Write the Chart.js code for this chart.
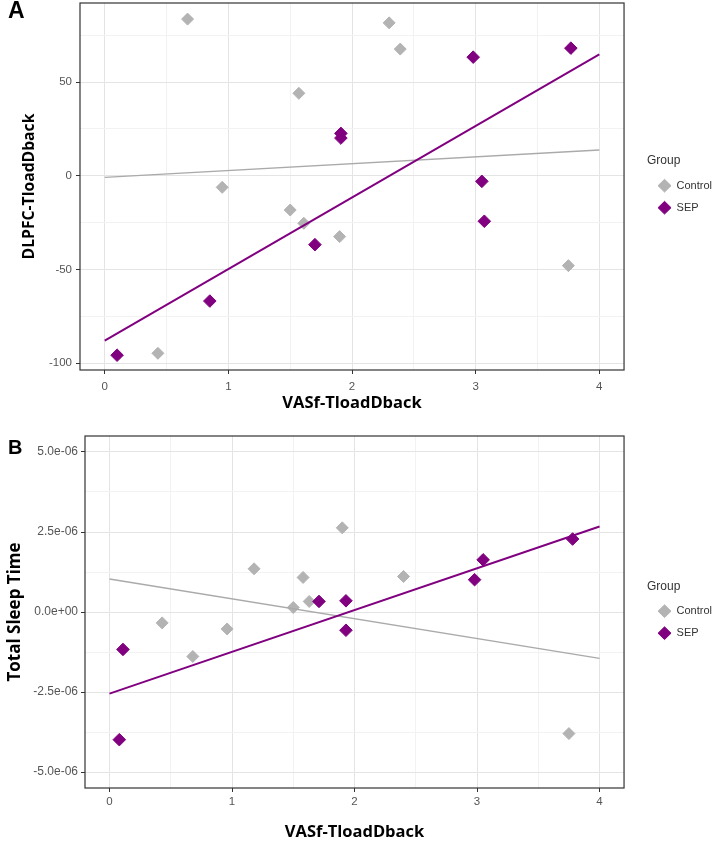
<!DOCTYPE html>
<html>
<head>
<meta charset="utf-8">
<script src="https://cdn.jsdelivr.net/npm/chart.js@4.4.0/dist/chart.umd.min.js"></script>
<style>
body { margin: 0; background: #fff; }
#wrap { position: relative; width: 713px; height: 846px; overflow: hidden; }
.panel { position: absolute; left: 0; width: 713px; }
.tag { position: absolute; left: 8px; font: bold 23px "Liberation Sans", Arial, sans-serif; line-height: 1; color: #000; }
</style>
</head>
<body>
<div id="wrap">
  <div class="panel" style="top:0;height:420px"><canvas id="relA"></canvas></div>
  <div class="panel" style="top:420px;height:426px"><canvas id="relB"></canvas></div>
  <div class="tag" style="top:-1px">A</div>
  <div class="tag" style="top:437px;font-size:20px">B</div>
</div>
<script>
// painel A - DLPFC
var ctrlA_x = [0.43, 0.67, 0.95, 1.50, 1.57, 1.61, 1.90, 2.30, 2.39, 3.75];
var ctrlA_y = [-94.8, 83.6, -6.2, -18.3, 44.0, -25.4, -32.5, 81.6, 67.6, -48.0];
var sepA_x = [0.10, 0.85, 1.70, 1.91, 1.91, 2.98, 3.05, 3.07, 3.77];
var sepA_y = [-95.8, -66.9, -36.8, 22.6, 20.1, 63.3, -3.0, -24.3, 68.1];
var ctrlA_fit = [-0.9, 13.7];
var sepA_fit = [-88.0, 64.8];

// painel B - Total Sleep Time
var ctrlB_x = [0.43, 0.68, 0.96, 1.18, 1.50, 1.58, 1.63, 1.90, 2.40, 3.75];
var ctrlB_y = [-0.34e-6, -1.39e-6, -0.53e-6, 1.35e-6, 0.14e-6, 1.08e-6, 0.33e-6, 2.63e-6, 1.11e-6, -3.80e-6];
var sepB_x = [0.08, 0.11, 1.71, 1.93, 1.93, 2.98, 3.05, 3.78];
var sepB_y = [-3.99e-6, -1.17e-6, 0.33e-6, 0.35e-6, -0.57e-6, 1.01e-6, 1.63e-6, 2.28e-6];
var ctrlB_fit = [1.03e-6, -1.45e-6];
var sepB_fit = [-2.55e-6, 2.67e-6];

// extremos das retas de ajuste (eixo X)
var fitX = [0, 4];
var grupos = ['Control', 'SEP'];

var cinza = '#b3b3b3', roxo = '#800080';

function pts(xs, ys) {
    return xs.map(function (x, i) { return {x: x, y: ys[i]}; });
}

function ehMultiplo(v, passo) {
    var k = v / passo;
    return Math.abs(k - Math.round(k)) < 1e-6;
}

// moldura do painel, por cima de tudo
var moldura = {
    id: 'moldura',
    afterDraw: function (chart) {
        var a = chart.chartArea, c = chart.ctx;
        c.save();
        c.strokeStyle = '#333';
        c.lineWidth = 1.2;
        c.strokeRect(a.left, a.top, a.right - a.left, a.bottom - a.top);
        c.restore();
    }
};

function grafico(id, o) {
    var gridCor = function (maior) {
        return function (ctx) {
            return ehMultiplo(ctx.tick.value, maior) ? '#e4e4e4' : '#f2f2f2';
        };
    };
    var tickCor = function (maior) {
        return function (ctx) {
            return ehMultiplo(ctx.tick.value, maior) ? '#333' : 'rgba(0,0,0,0)';
        };
    };
    return new Chart(document.getElementById(id), {
        type: 'scatter',
        data: {
            datasets: [{
                    label: grupos[0],
                    data: pts(o.cx, o.cy),
                    backgroundColor: cinza,
                    borderColor: cinza,
                    pointStyle: 'rectRot',
                    pointRadius: 6,
                    borderWidth: 1,
                    order: 3
                }, {
                    label: grupos[1],
                    data: pts(o.sx, o.sy),
                    backgroundColor: roxo,
                    borderColor: roxo,
                    pointStyle: 'rectRot',
                    pointRadius: 6.3,
                    borderWidth: 1,
                    order: 2
                }, {
                    label: 'fit Control',
                    data: pts(fitX, o.cf),
                    showLine: true,
                    borderColor: '#aaaaaa',
                    borderWidth: 1.4,
                    pointRadius: 0,
                    order: 1
                }, {
                    label: 'fit SEP',
                    data: pts(fitX, o.sf),
                    showLine: true,
                    borderColor: roxo,
                    borderWidth: 2,
                    pointRadius: 0,
                    order: 0
                }]
        },
        options: {
            responsive: true,
            maintainAspectRatio: false,
            animation: false,
            layout: {autoPadding: false, padding: {top: o.top, left: 0, right: -9, bottom: 0}},
            plugins: {
                tooltip: {enabled: false},
                legend: {
                    position: 'right',
                    align: 'center',
                    fullSize: false,
                    title: {display: true, text: 'Group', color: '#333', position: 'start',
                        font: {family: 'Liberation Sans', size: 12}, padding: {top: 6, bottom: 0}},
                    labels: {
                        usePointStyle: true,
                        pointStyleWidth: 13,
                        boxHeight: 9,
                        color: '#333',
                        padding: 11,
                        font: {family: 'Liberation Sans', size: 11},
                        filter: function (item) { return item.datasetIndex < 2; },
                        sort: function (a, b) { return a.datasetIndex - b.datasetIndex; }
                    }
                }
            },
            scales: {
                x: {
                    type: 'linear',
                    min: -0.2,
                    max: 4.2,
                    border: {display: false},
                    grid: {color: gridCor(1), tickColor: tickCor(1), tickLength: 4},
                    ticks: {
                        stepSize: 0.5, maxTicksLimit: 30, autoSkip: false, maxRotation: 0, includeBounds: false,
                        color: '#555', padding: o.xpad, font: {family: 'Liberation Sans', size: 11.5},
                        callback: function (v) { return ehMultiplo(v, 1) ? String(Math.round(v)) : ''; }
                    },
                    title: {display: true, text: 'VASf-TloadDback', color: '#000',
                        font: {family: 'Open Sans', weight: 'bold', size: 16.5}, padding: {top: 0, bottom: o.xtp}},
                    afterFit: function (s) {
                        s.height = o.xh;
                        s.paddingLeft = 0;
                        s.paddingRight = 0;
                    }
                },
                y: {
                    type: 'linear',
                    min: o.ymin,
                    max: o.ymax,
                    border: {display: false},
                    grid: {color: gridCor(o.ymaior), tickColor: tickCor(o.ymaior), tickLength: 4},
                    ticks: {
                        stepSize: o.ystep, maxTicksLimit: 30, autoSkip: false, includeBounds: false,
                        color: '#555', padding: o.ypad, font: {family: 'Liberation Sans', size: o.yfont},
                        callback: o.yrot
                    },
                    title: {display: true, text: o.ytitle, color: '#000',
                        font: {family: 'Open Sans', weight: 'bold', size: o.ytsize}, padding: {top: o.ytp, bottom: 0}},
                    afterFit: function (s) {
                        s.width = o.yw;
                        s.paddingTop = 0;
                        s.paddingBottom = 0;
                    }
                },
                // espaco entre o painel e a legenda
                folga: {
                    type: 'linear',
                    position: 'right',
                    grid: {display: false},
                    border: {display: false},
                    ticks: {display: false},
                    afterFit: function (s) {
                        s.width = 23;
                        s.paddingTop = 0;
                        s.paddingBottom = 0;
                    }
                }
            }
        },
        plugins: [moldura]
    });
}

// grafico A
var relA = grafico('relA', {
    cx: ctrlA_x, cy: ctrlA_y, sx: sepA_x, sy: sepA_y, cf: ctrlA_fit, sf: sepA_fit,
    top: 3, xh: 50, yw: 80, xpad: 5.5, xtp: 7, ypad: 4, yfont: 11.5,
    ymin: -103.7, ymax: 92.2, ystep: 25, ymaior: 50,
    ytitle: 'DLPFC-TloadDback', ytsize: 15.7, ytp: 20.5,
    yrot: function (v) { return ehMultiplo(v, 50) ? String(Math.round(v)) : ''; }
});

// grafico B
var relB = grafico('relB', {
    cx: ctrlB_x, cy: ctrlB_y, sx: sepB_x, sy: sepB_y, cf: ctrlB_fit, sf: sepB_fit,
    top: 16, xh: 58, yw: 85, xpad: 2.5, xtp: 3.8, ypad: 3, yfont: 12,
    ymin: -5.5e-6, ymax: 5.5e-6, ystep: 1.25e-6, ymaior: 2.5e-6,
    ytitle: 'Total Sleep Time', ytsize: 17, ytp: 4.8,
    yrot: function (v) {
        if (!ehMultiplo(v, 2.5e-6)) return '';
        if (Math.abs(v) < 1e-9) return '0.0e+00';
        return (v * 1e6).toFixed(1) + 'e-06';
    }
});
</script>
</body>
</html>
